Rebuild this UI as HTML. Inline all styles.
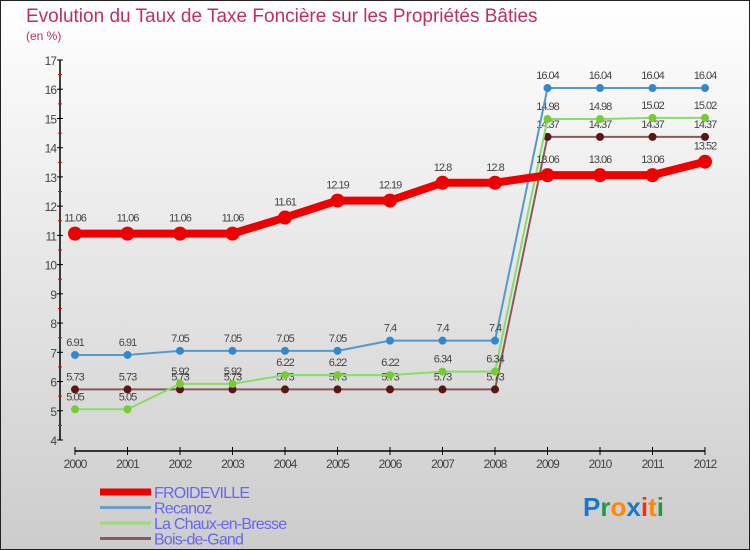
<!DOCTYPE html>
<html><head><meta charset="utf-8"><style>
body{margin:0;width:750px;height:550px;overflow:hidden;font-family:"Liberation Sans",sans-serif}
#frame{position:absolute;left:0;top:0;width:748px;height:548px;border:1px solid #222;background:linear-gradient(#ffffff,#cccccc)}
</style></head><body>
<div id="frame">
<svg id="chart" width="750" height="550" style="position:absolute;left:-1px;top:-1px">
<text x="26" y="22" font-size="19" fill="#c0305a">Evolution du Taux de Taxe Foncière sur les Propriétés Bâties</text>
<text x="26" y="40" font-size="12" fill="#c0305a">(en %)</text>
</svg>
</div>
<script>
const years=["2000","2001","2002","2003","2004","2005","2006","2007","2008","2009","2010","2011","2012"];
const yTicks=[4,5,6,7,8,9,10,11,12,13,14,15,16,17];
const froideville=[11.06,11.06,11.06,11.06,11.61,12.19,12.19,12.8,12.8,13.06,13.06,13.06,13.52];
const recanoz=[6.91,6.91,7.05,7.05,7.05,7.05,7.4,7.4,7.4,16.04,16.04,16.04,16.04];
const chaux=[5.05,5.05,5.92,5.92,6.22,6.22,6.22,6.34,6.34,14.98,14.98,15.02,15.02];
const bois=[5.73,5.73,5.73,5.73,5.73,5.73,5.73,5.73,5.73,14.37,14.37,14.37,14.37];
const svg=document.getElementById('chart');const NS="http://www.w3.org/2000/svg";
const xS=i=>75+i*52.5;const yS=v=>440-(v-4)*(380/13);
function mk(t,a,p){const e=document.createElementNS(NS,t);for(const k in a)e.setAttribute(k,a[k]);(p||svg).appendChild(e);return e;}
// axes
let ya=mk('line',{x1:60,y1:yS(17),x2:60,y2:440,stroke:'#000','stroke-width':1.5});


yTicks.forEach(v=>{mk('line',{x1:57,x2:63,y1:yS(v),y2:yS(v),stroke:'#000'});
 if(v<17)mk('line',{x1:58,x2:62,y1:yS(v+0.5),y2:yS(v+0.5),stroke:'#e00'});
 let t=mk('text',{x:56,y:yS(v)+5,'font-size':12,'text-anchor':'end',fill:'#444','letter-spacing':'-1'});t.textContent=v;
 
 });
let xa=mk('line',{x1:75,y1:451,x2:705,y2:451,stroke:'#000','stroke-width':1.5});


years.forEach((y,i)=>{mk('line',{x1:xS(i),x2:xS(i),y1:447,y2:455,stroke:'#000'});
 let t=mk('text',{x:xS(i),y:468,'font-size':12,'text-anchor':'middle',fill:'#444','letter-spacing':'-1'});t.textContent=y;
 
 });
function series(vals,color,w,r,name,dot){
 const g=mk('g',{});
 
 
 mk('polyline',{points:vals.map((v,i)=>xS(i)+','+yS(v)).join(' '),fill:'none',stroke:color,'stroke-width':w,'stroke-linejoin':'round'},g);
 vals.forEach((v,i)=>{mk('circle',{cx:xS(i),cy:yS(v),r:r,fill:dot},g);
  let t=mk('text',{x:xS(i),y:yS(v)-r-5,'font-size':11,'text-anchor':'middle',fill:'#444','letter-spacing':'-1'},g);t.textContent=String(v);});
}
series(bois,'#8a5a5a',2,4,'series-bois-de-gand','#5a1515');
series(chaux,'#88dd66',2,4,'series-la-chaux-en-bresse','#77cc33');
series(recanoz,'#5599cc',2,4,'series-recanoz','#3388cc');
series(froideville,'#ee0000',8,7,'series-froideville','#ee0000');
const leg=[['FROIDEVILLE','#ee0000',7],['Recanoz','#6a9ec6',3],['La Chaux-en-Bresse','#99dd77',3],['Bois-de-Gand','#8a5a5a',3]];
leg.forEach((l,i)=>{const y=492+i*15.5;const g=mk('g',{});
 
 
 mk('line',{x1:100,x2:151,y1:y,y2:y,stroke:l[1],'stroke-width':l[2]},g);
 let t=mk('text',{x:154,y:y+6,'font-size':16,fill:'#6666ee','letter-spacing':'-0.8'},g);t.textContent=l[0];});
const logo=mk('text',{x:583,y:516,'font-size':26,'font-weight':'bold'});


[['P','#1a77cc'],['r','#229944'],['o','#ff8800'],['x','#1a77cc'],['i','#ee3311'],['t','#ff8800'],['i','#229944']].forEach(c=>{const s=mk('tspan',{fill:c[1]},logo);s.textContent=c[0];});
</script>
</body></html>
